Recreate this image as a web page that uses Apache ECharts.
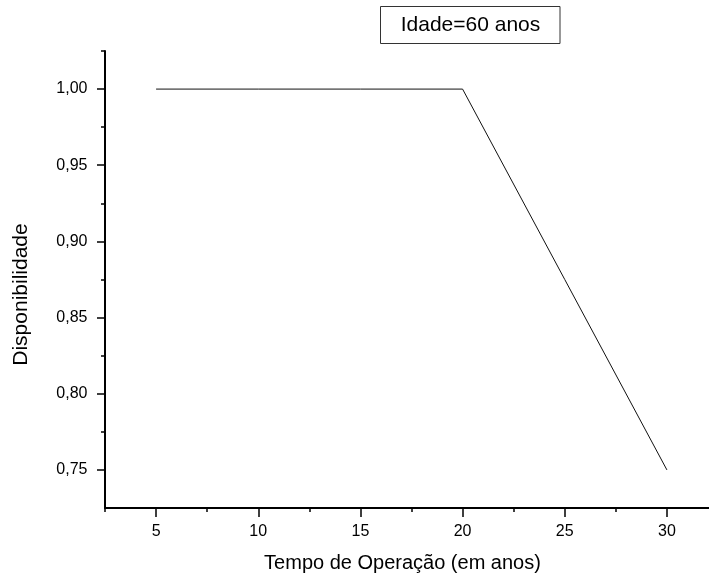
<!DOCTYPE html>
<html>
<head>
<meta charset="utf-8">
<script src="https://cdn.jsdelivr.net/npm/echarts@6/dist/echarts.min.js"></script>
<style>
html,body{margin:0;padding:0;background:#fff;}
#chart{width:709px;height:578px;}
</style>
</head>
<body>
<div id="chart"></div>
<script>
// ---- data ----
const xValues = [5, 10, 15, 20, 25, 30];
const availability = [1.00, 1.00, 1.00, 1.00, 0.875, 0.75];
const xMajorTicks = [5, 10, 15, 20, 25, 30];
const xMinorTicks = [2.5, 7.5, 12.5, 17.5, 22.5, 27.5, 32.5];
const yMajorTicks = [0.75, 0.80, 0.85, 0.90, 0.95, 1.00];
const yMinorTicks = [0.775, 0.825, 0.875, 0.925, 0.975, 1.025];
const xRange = [2.5, 32.5];
const yRange = [0.725, 1.025];
const xTitle = 'Tempo de Operação (em anos)';
const yTitle = 'Disponibilidade';
const legendText = 'Idade=60 anos';

const FONT = '"Liberation Sans", Arial, Helvetica, sans-serif';
const chart = echarts.init(document.getElementById('chart'), null, {renderer: 'canvas'});

const seriesData = xValues.map((x, i) => [x, availability[i]]);

const option = {
  animation: false,
  backgroundColor: '#fff',
  textStyle: {fontFamily: FONT},
  grid: {left: 105, top: 51, width: 613, height: 457, containLabel: false, outerBoundsMode: 'none'},
  xAxis: [
    {
      type: 'value', min: xRange[0], max: xRange[1], position: 'bottom',
      axisLine: {show: true, onZero: false, lineStyle: {color: '#000', width: 2}},
      axisTick: {show: true, inside: false, length: 9, customValues: xMajorTicks, lineStyle: {color: '#000', width: 1.5}},
      axisLabel: {show: true, customValues: xMajorTicks, margin: 16, color: '#000', fontSize: 16, fontFamily: FONT},
      splitLine: {show: false}
    },
    {
      type: 'value', min: xRange[0], max: xRange[1], position: 'bottom',
      axisLine: {show: false},
      axisTick: {show: true, inside: false, length: 4, customValues: xMinorTicks, lineStyle: {color: '#000', width: 1.5}},
      axisLabel: {show: false},
      splitLine: {show: false}
    }
  ],
  yAxis: [
    {
      type: 'value', min: yRange[0], max: yRange[1], position: 'left',
      axisLine: {show: true, onZero: false, lineStyle: {color: '#000', width: 2}},
      axisTick: {show: true, inside: false, length: 8, customValues: yMajorTicks, lineStyle: {color: '#000', width: 1.5}},
      axisLabel: {show: true, customValues: yMajorTicks, margin: 17.5, color: '#000', fontSize: 16, fontFamily: FONT,
        formatter: v => v.toFixed(2).replace('.', ',')},
      splitLine: {show: false}
    },
    {
      type: 'value', min: yRange[0], max: yRange[1], position: 'left',
      axisLine: {show: false},
      axisTick: {show: true, inside: false, length: 4, customValues: yMinorTicks, lineStyle: {color: '#000', width: 1.5}},
      axisLabel: {show: false},
      splitLine: {show: false}
    }
  ],
  series: [{
    type: 'line', xAxisIndex: 0, yAxisIndex: 0,
    data: seriesData, showSymbol: false, symbol: 'none',
    lineStyle: {color: '#111', width: 1},
    silent: true
  }],
  graphic: [
    {type: 'rect', shape: {x: 380.5, y: 6.5, width: 179.5, height: 37}, style: {fill: '#fff', stroke: '#333', lineWidth: 1}},
    {type: 'text', x: 470.5, y: 25.5, style: {text: legendText, fill: '#000', font: '21px ' + FONT, textAlign: 'center', textVerticalAlign: 'middle'}},
    {type: 'text', x: 402.5, y: 563, style: {text: xTitle, fill: '#000', font: '20px ' + FONT, textAlign: 'center', textVerticalAlign: 'middle'}},
    {type: 'text', x: 21, y: 294.5, rotation: Math.PI / 2, style: {text: yTitle, fill: '#000', font: '21px ' + FONT, textAlign: 'center', textVerticalAlign: 'middle'}}
  ]
};
chart.setOption(option);
</script>
</body>
</html>
